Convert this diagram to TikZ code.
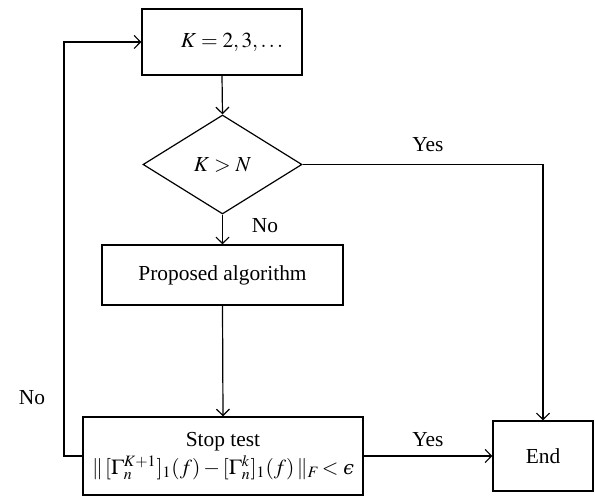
\documentclass[tikz,border=0pt]{standalone}
\usepackage{mathptmx}
\usepackage{fontspec}
\setmainfont{Liberation Serif}
\newfontfamily\dvserif{DejaVu Serif}
\newcommand{\lunateps}{\mbox{\dvserif\itshape\fontsize{9.5}{11}\selectfont ϵ}}
\usetikzlibrary{arrows.meta,shapes.geometric}
\begin{document}
\begin{tikzpicture}[x=0.5pt,y=-0.5pt,
  font=\fontsize{10.7}{13}\selectfont,
  box/.style={draw,line width=0.6pt,inner sep=0pt,align=center},
  arr/.style={draw,line width=0.6pt,-{Straight Barb[length=3.2pt,width=6.5pt]}},
  lbl/.style={inner sep=0pt}]
\useasboundingbox (0,0) rectangle (595,496);
\node[box,minimum width=80pt,minimum height=33pt] (top) at (222,42) {\hspace*{10pt}$K=2,3,\ldots$};
\node[draw,line width=0.6pt,diamond,aspect=1.6,inner sep=0pt,minimum width=79.5pt,minimum height=49.5pt] (dia) at (222.5,164.5) {$K>N$};
\node[box,minimum width=120.5pt,minimum height=30pt] (prop) at (222.5,275) {Proposed algorithm};
\node[box,minimum width=140pt,minimum height=39pt] (stop) at (223,456) {Stop test\\[1pt] $\|\,[\Gamma_n^{K+1}]_1(f)-[\Gamma_n^k]_1(f)\,\|_F\!<\lunateps$};
\node[box,minimum width=50pt,minimum height=35pt] (end) at (543,456) {End};
\draw[arr] (top.south) -- (dia.north);
\draw[arr] (dia.south) -- (prop.north);
\draw[arr] (prop.south) -- (stop.north);
\draw[arr] (stop.east) -- (end.west);
\draw[arr] (dia.east) -| (end.north);
\coordinate (fb) at (64,456);
\draw[arr] (stop.west) -- (fb) |- (top.west);
\node[lbl] (no1) at (265,226) {No};
\node[lbl] (no2) at (32,398) {No};
\node[lbl] (yes1) at (428,145) {Yes};
\node[lbl] (yes2) at (428,440) {Yes};
\end{tikzpicture}
\end{document}
